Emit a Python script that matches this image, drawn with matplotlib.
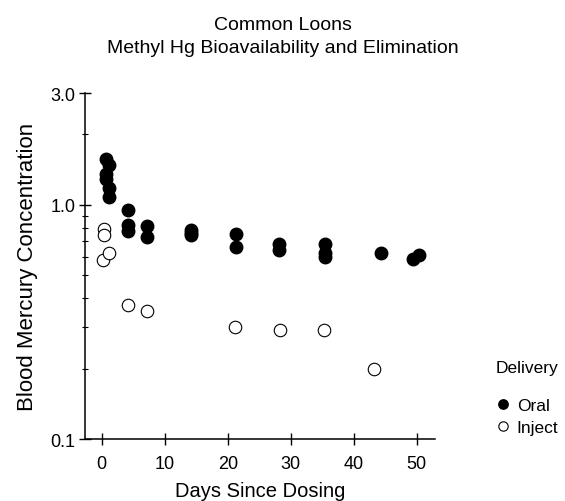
import matplotlib
matplotlib.use("Agg")
import matplotlib.pyplot as plt
from matplotlib.ticker import FixedLocator, NullFormatter

plt.rcParams['font.family'] = ['Liberation Sans', 'DejaVu Sans']

# oral dosing (filled)
oral_days = [0.6, 0.6, 0.6, 1.2, 1.2, 1.2, 4.2, 4.2, 4.2, 7.2, 7.2,
             14.2, 14.2, 14.2, 21.3, 21.3, 28.2, 28.2, 35.4, 35.4, 35.4,
             44.4, 49.4, 50.3]
oral_conc = [1.57, 1.36, 1.29, 1.48, 1.18, 1.08, 0.955, 0.82, 0.77, 0.815, 0.73,
             0.78, 0.76, 0.74, 0.75, 0.66, 0.68, 0.64, 0.68, 0.62, 0.60,
             0.62, 0.59, 0.61]

# injected (open)
inj_days = [0.4, 0.3, 0.2, 1.1, 4.2, 7.2, 21.2, 28.3, 35.3, 43.2]
inj_conc = [0.79, 0.74, 0.58, 0.62, 0.374, 0.352, 0.30, 0.293, 0.293, 0.20]

fig = plt.figure(figsize=(5.65, 5.02), dpi=100)
ax = fig.add_axes([0.150, 0.1235, 0.620, 0.689])

ax.plot(oral_days, oral_conc, 'o', color='black', markersize=9, label='Oral')
ax.plot(inj_days, inj_conc, 'o', markerfacecolor='white', markeredgecolor='black',
        markeredgewidth=0.8, markersize=9, label='Inject')

ax.set_yscale('log')
ax.set_ylim(0.1, 3.0)
ax.set_xlim(-2.7, 52.9)

ax.yaxis.set_major_locator(FixedLocator([0.1, 1.0, 3.0]))
ax.set_yticklabels(['0.1', '1.0', '3.0'])
ax.yaxis.set_minor_locator(FixedLocator([0.2, 0.3, 0.4, 0.5, 0.6, 0.7, 0.8, 0.9, 2.0]))
ax.yaxis.set_minor_formatter(NullFormatter())
ax.set_xticks([0, 10, 20, 30, 40, 50])

for side in ['top', 'right']:
    ax.spines[side].set_visible(False)
for side in ['left', 'bottom']:
    ax.spines[side].set_linewidth(1.1)

ax.tick_params(which='major', direction='inout', length=9, width=1, labelsize=13, pad=2)
ax.tick_params(axis='x', which='major', pad=7)
ax.tick_params(which='minor', direction='inout', length=5, width=0.8)

ax.set_xlabel('Days Since Dosing', fontsize=14.5, labelpad=6.5)
ax.set_ylabel('Blood Mercury Concentration', fontsize=16, labelpad=9)

fig.text(0.5, 0.95, 'Common Loons', ha='center', va='center', fontsize=14)
fig.text(0.5, 0.904, 'Methyl Hg Bioavailability and Elimination', ha='center',
         va='center', fontsize=14)

# legend title placed by hand, entries from the legend
fig.text(496 / 565, 1 - 368 / 502, 'Delivery', ha='left', va='center', fontsize=12.5)
leg = ax.legend(frameon=False, loc='upper left',
                bbox_to_anchor=(0.850, 0.229), bbox_transform=fig.transFigure,
                fontsize=12.5, handletextpad=0.2, borderpad=0.2,
                labelspacing=0.4, markerscale=0.75, handlelength=1.2)

fig.savefig('out.png', dpi=100)
